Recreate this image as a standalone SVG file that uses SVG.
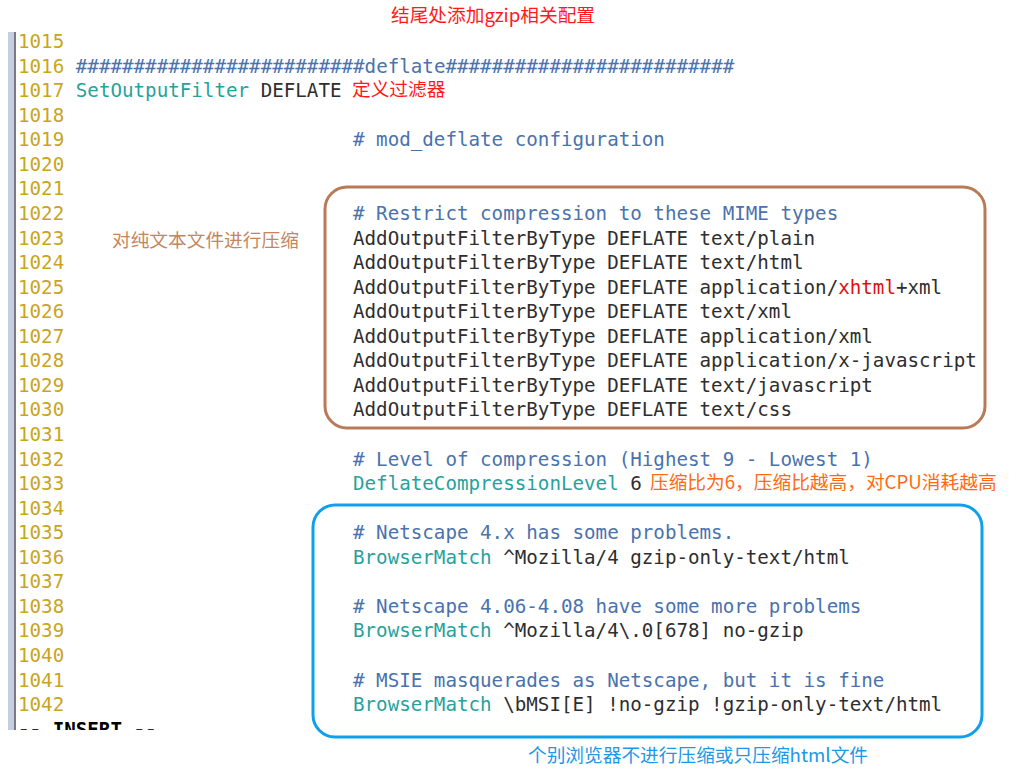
<svg xmlns="http://www.w3.org/2000/svg" width="1016" height="771" viewBox="0 0 1016 771" xml:space="preserve">
<style>
.m{font-family:"DejaVu Sans Mono","Liberation Mono",monospace;font-size:19.2px;}
.n{fill:#c9a51e;}
.c{fill:#4a72ad;}
.k{fill:#26a29c;}
.t{fill:#2e2e2e;}
.r{fill:#e01010;}
.a{font-family:"Noto Sans CJK SC","Noto Sans",sans-serif;font-size:18.7px;}
</style>
<defs>
<clipPath id="clipIns"><rect x="0" y="0" width="1016" height="730"/></clipPath>
</defs>
<rect width="1016" height="771" fill="#ffffff"/>
<g id="gutter">
<rect x="8" y="32" width="6" height="698" fill="#c6cee2"/>
<rect x="14" y="32" width="2" height="698" fill="#7a7a80"/>
</g>
<g id="linenumbers" class="m n">
<text x="18" y="48">1015</text>
<text x="18" y="72.6">1016</text>
<text x="18" y="97.1">1017</text>
<text x="18" y="121.7">1018</text>
<text x="18" y="146.2">1019</text>
<text x="18" y="170.8">1020</text>
<text x="18" y="195.4">1021</text>
<text x="18" y="219.9">1022</text>
<text x="18" y="244.5">1023</text>
<text x="18" y="269">1024</text>
<text x="18" y="293.6">1025</text>
<text x="18" y="318.2">1026</text>
<text x="18" y="342.7">1027</text>
<text x="18" y="367.3">1028</text>
<text x="18" y="391.8">1029</text>
<text x="18" y="416.4">1030</text>
<text x="18" y="441">1031</text>
<text x="18" y="465.5">1032</text>
<text x="18" y="490.1">1033</text>
<text x="18" y="514.6">1034</text>
<text x="18" y="539.2">1035</text>
<text x="18" y="563.8">1036</text>
<text x="18" y="588.3">1037</text>
<text x="18" y="612.9">1038</text>
<text x="18" y="637.4">1039</text>
<text x="18" y="662">1040</text>
<text x="18" y="686.6">1041</text>
<text x="18" y="711.1">1042</text>
</g>
<g id="code" class="m">
<text class="c" x="75.8" y="72.6">#########################deflate#########################</text>
<text x="75.8" y="97.1"><tspan class="k">SetOutputFilter</tspan><tspan class="t"> DEFLATE</tspan></text>
<text class="c" x="353" y="146.2"># mod_deflate configuration</text>
<text class="c" x="353" y="219.9"># Restrict compression to these MIME types</text>
<text class="t" x="353" y="244.5">AddOutputFilterByType DEFLATE text/plain</text>
<text class="t" x="353" y="269">AddOutputFilterByType DEFLATE text/html</text>
<text class="t" x="353" y="293.6">AddOutputFilterByType DEFLATE application/<tspan class="r">xhtml</tspan>+xml</text>
<text class="t" x="353" y="318.2">AddOutputFilterByType DEFLATE text/xml</text>
<text class="t" x="353" y="342.7">AddOutputFilterByType DEFLATE application/xml</text>
<text class="t" x="353" y="367.3">AddOutputFilterByType DEFLATE application/x-javascript</text>
<text class="t" x="353" y="391.8">AddOutputFilterByType DEFLATE text/javascript</text>
<text class="t" x="353" y="416.4">AddOutputFilterByType DEFLATE text/css</text>
<text class="c" x="353" y="465.5"># Level of compression (Highest 9 - Lowest 1)</text>
<text x="353" y="490.1"><tspan class="k">DeflateCompressionLevel</tspan><tspan class="t"> 6</tspan></text>
<text class="c" x="353" y="539.2"># Netscape 4.x has some problems.</text>
<text x="353" y="563.8"><tspan class="k">BrowserMatch</tspan><tspan class="t"> ^Mozilla/4 gzip-only-text/html</tspan></text>
<text class="c" x="353" y="612.9"># Netscape 4.06-4.08 have some more problems</text>
<text x="353" y="637.4"><tspan class="k">BrowserMatch</tspan><tspan class="t"> ^Mozilla/4\.0[678] no-gzip</tspan></text>
<text class="c" x="353" y="686.6"># MSIE masquerades as Netscape, but it is fine</text>
<text x="353" y="711.1"><tspan class="k">BrowserMatch</tspan><tspan class="t"> \bMSI[E] !no-gzip !gzip-only-text/html</tspan></text>
<text x="18" y="736" clip-path="url(#clipIns)" fill="#000000" font-weight="bold">-- INSERT --</text>
</g>
<g id="boxes" fill="none" stroke-width="3">
<rect id="box-mime" x="325" y="187" width="660" height="241" rx="22" ry="22" stroke="#b97a58"/>
<rect id="box-browser" x="313" y="505" width="669" height="232" rx="22" ry="22" stroke="#10a0e8"/>
</g>
<g id="annotations" class="a">
<text x="391" y="22" fill="#ff1a1a">结尾处添加gzip相关配置</text>
<text x="352" y="96" fill="#ff1a1a">定义过滤器</text>
<text x="112" y="247" fill="#c48660">对纯文本文件进行压缩</text>
<text x="650" y="489" fill="#ff6a10">压缩比为6，压缩比越高，对CPU消耗越高</text>
<text x="528" y="762" fill="#2098e6">个别浏览器不进行压缩或只压缩html文件</text>
</g>
</svg>
